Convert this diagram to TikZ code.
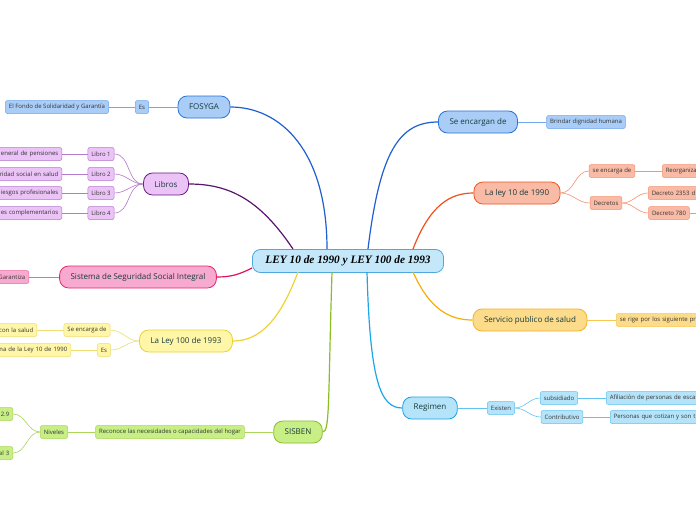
\documentclass[tikz,border=0pt]{standalone}
\usepackage{fontspec}
\setmainfont{Open Sans}
\newfontfamily\rootserif{Liberation Serif}
\usetikzlibrary{positioning}

\definecolor{ink}{HTML}{173A3A}
\definecolor{leafink}{HTML}{333333}
\definecolor{rootfill}{HTML}{C4E8FA}
\definecolor{rootline}{HTML}{4CA8DF}
\definecolor{bluefill}{HTML}{A9CDF7}
\definecolor{blueline}{HTML}{2A72D8}
\definecolor{bluelink}{HTML}{1F5FD0}
\definecolor{bluesoft}{HTML}{6FA6EE}
\definecolor{purpfill}{HTML}{EBC3F7}
\definecolor{purpline}{HTML}{6B1A80}
\definecolor{purplink}{HTML}{5A156E}
\definecolor{purpsoft}{HTML}{B47ACB}
\definecolor{pinkfill}{HTML}{F8A9CF}
\definecolor{pinkline}{HTML}{E5276F}
\definecolor{pinklink}{HTML}{E0115E}
\definecolor{pinksoft}{HTML}{EB6A9E}
\definecolor{yelfill}{HTML}{FFF6A8}
\definecolor{yelline}{HTML}{E8D232}
\definecolor{yellink}{HTML}{F0D332}
\definecolor{yelsoft}{HTML}{EEDD70}
\definecolor{grnfill}{HTML}{C8EE86}
\definecolor{grnline}{HTML}{8BBD2A}
\definecolor{grnlink}{HTML}{8BBE22}
\definecolor{grnsoft}{HTML}{AAD65A}
\definecolor{orgfill}{HTML}{F9BBA6}
\definecolor{orgline}{HTML}{EF5523}
\definecolor{orglink}{HTML}{F0501E}
\definecolor{orgsoft}{HTML}{F39474}
\definecolor{goldfill}{HTML}{FCDB8A}
\definecolor{goldline}{HTML}{F3B124}
\definecolor{goldlink}{HTML}{F8B000}
\definecolor{goldsoft}{HTML}{F6C650}
\definecolor{cyanfill}{HTML}{B5E4FA}
\definecolor{cyanline}{HTML}{1AA3E2}
\definecolor{cyanlink}{HTML}{1CA5EA}
\definecolor{cyansoft}{HTML}{62C2F0}

\tikzset{
  root/.style={draw=rootline, fill=rootfill, line width=0.8pt, rounded corners=8pt,
    minimum height=23pt, inner xsep=13pt, text=black,
    font=\rootserif\bfseries\itshape\fontsize{11.3}{13}\selectfont},
  topic/.style 2 args={draw=#2, fill=#1, line width=0.8pt, rounded corners=9pt,
    minimum height=22pt, inner xsep=11pt, text=ink, font=\fontsize{8}{9}\selectfont},
  leaf/.style 2 args={draw=#2, fill=#1, line width=0.5pt, rounded corners=2pt,
    minimum height=13pt, inner xsep=3.5pt, inner ysep=1pt, text=leafink,
    font=\fontsize{6}{7}\selectfont},
  cutl/.style={anchor=east, text width=#1, align=right},
  cutr/.style={anchor=west, text width=#1, align=left},
  branch/.style={line width=1.2pt, draw=#1},
  twig/.style={line width=0.6pt, draw=#1},
}

\begin{document}
\begin{tikzpicture}[x=1pt, y=-1pt]
\useasboundingbox (0,0) rectangle (696,520);
\fill[white] (0,0) rectangle (696,520);
\clip (0,0) rectangle (696,520);

\node[root] (root) at (348,261) {LEY 10 de 1990 y LEY 100 de 1993};

\node[topic={bluefill}{blueline}] (fosyga) at (204,107) {FOSYGA};
\node[leaf={bluefill}{bluesoft}] (es1) at (142,107) {Es};
\node[leaf={bluefill}{bluesoft}] (fondo) at (57,107) {El Fondo de Solidaridad y Garantía};

\node[topic={purpfill}{purpline}] (libros) at (166,184) {Libros};
\node[leaf={purpfill}{purpsoft}] (lib1) at (101,154) {Libro 1};
\node[leaf={purpfill}{purpsoft}] (lib2) at (101,174) {Libro 2};
\node[leaf={purpfill}{purpsoft}] (lib3) at (101,193) {Libro 3};
\node[leaf={purpfill}{purpsoft}] (lib4) at (101,213) {Libro 4};
\node[leaf={purpfill}{purpsoft}, cutl=90pt] (pens) at (62,154) {eneral de pensiones};
\node[leaf={purpfill}{purpsoft}, cutl=90pt] (salud) at (62,174) {ridad social en salud};
\node[leaf={purpfill}{purpsoft}, cutl=90pt] (riesgo) at (62,193) {iesgos profesionales};
\node[leaf={purpfill}{purpsoft}, cutl=90pt] (compl) at (62,213) {es complementarios};

\node[topic={pinkfill}{pinkline}] (sssi) at (138,277) {Sistema de Seguridad Social Integral};
\node[leaf={pinkfill}{pinksoft}, cutl=40pt] (garan) at (29,277) {Garantiza};

\node[topic={yelfill}{yelline}] (ley100) at (186,341) {La Ley 100 de 1993};
\node[leaf={yelfill}{yelsoft}] (senc1) at (87,330) {Se encarga de};
\node[leaf={yelfill}{yelsoft}] (es2) at (104,350) {Es};
\node[leaf={yelfill}{yelsoft}, cutl=60pt] (consal) at (37,330) {con la salud};
\node[leaf={yelfill}{yelsoft}, cutl=80pt] (reforma) at (71,350) {ma de la Ley 10 de 1990};

\node[topic={grnfill}{grnline}] (sisben) at (298,432) {SISBEN};
\node[leaf={grnfill}{grnsoft}] (recon) at (170,432) {Reconoce las necesidades o capacidades del hogar};
\node[leaf={grnfill}{grnsoft}] (nivel) at (54,432) {Niveles};
\node[leaf={grnfill}{grnsoft}, cutl=40pt] (niv1) at (13,414) {2.9};
\node[leaf={grnfill}{grnsoft}, cutl=40pt] (niv2) at (13,453) {al 3};

\node[topic={bluefill}{blueline}] (sencn) at (478,122) {Se encargan de};
\node[leaf={bluefill}{bluesoft}] (brind) at (586,122) {Brindar dignidad humana};

\node[topic={orgfill}{orgline}] (ley10) at (517,193) {La ley 10 de 1990};
\node[leaf={orgfill}{orgsoft}] (senc2) at (612,171) {se encarga de};
\node[leaf={orgfill}{orgsoft}] (decr) at (606,203) {Decretos};
\node[leaf={orgfill}{orgsoft}, cutr=80pt] (reorg) at (662,171) {Reorganiza};
\node[leaf={orgfill}{orgsoft}, cutr=80pt] (d2353) at (648,193) {Decreto 2353 d};
\node[leaf={orgfill}{orgsoft}] (d780) at (669,213) {Decreto 780};
\coordinate (d780c) at (720,213);

\node[topic={goldfill}{goldline}] (servi) at (530,320) {Servicio publico de salud};
\node[leaf={goldfill}{goldsoft}, cutr=120pt] (serige) at (616,320) {se rige por los siguiente pri};

\node[topic={cyanfill}{cyanline}] (regim) at (430,408) {Regimen};
\node[leaf={cyanfill}{cyansoft}] (exist) at (501,408) {Existen};
\node[leaf={cyanfill}{cyansoft}] (subs) at (559,398) {subsidiado};
\node[leaf={cyanfill}{cyansoft}] (contr) at (562,417) {Contributivo};
\node[leaf={cyanfill}{cyansoft}, cutr=130pt] (afil) at (606,398) {Afiliación de personas de escas};
\node[leaf={cyanfill}{cyansoft}, cutr=130pt] (perso) at (610,417) {Personas que cotizan y son tra};

\draw[branch=bluelink] (327,249) .. controls (327,150) and (280,107) .. (fosyga.east);
\draw[branch=purplink] (293,249) .. controls (260,200) and (230,184) .. (libros.east);
\draw[branch=pinklink] (252,268) .. controls (240,274) and (232,277) .. (sssi.east);
\draw[branch=yellink] (298,272) .. controls (280,320) and (260,341) .. (ley100.east);
\draw[branch=grnlink] (332,272) .. controls (328,400) and (330,432) .. (sisben.east);
\draw[branch=bluelink] (368,249) .. controls (380,150) and (400,122) .. (sencn.west);
\draw[branch=orglink] (413,249) .. controls (430,205) and (450,193) .. (ley10.west);
\draw[branch=goldlink] (413,272) .. controls (430,310) and (450,320) .. (servi.west);
\draw[branch=cyanlink] (367,272) .. controls (370,380) and (380,408) .. (regim.west);

\draw[twig=bluesoft] (fosyga.west) -- (es1.east);
\draw[twig=bluesoft] (es1.west) -- (fondo.east);
\foreach \n/\m in {lib1/pens, lib2/salud, lib3/riesgo, lib4/compl} {
  \draw[twig=purpsoft] (libros.west) to[out=180, in=0] (\n.east);
  \draw[twig=purpsoft] (\n.west) -- (\m.east);
}
\draw[twig=pinksoft] (sssi.west) -- (garan.east);
\draw[twig=yelsoft] (ley100.west) to[out=180, in=0] (senc1.east);
\draw[twig=yelsoft] (ley100.west) to[out=180, in=0] (es2.east);
\draw[twig=yelsoft] (senc1.west) -- (consal.east);
\draw[twig=yelsoft] (es2.west) -- (reforma.east);
\draw[twig=grnsoft] (sisben.west) -- (recon.east);
\draw[twig=grnsoft] (recon.west) -- (nivel.east);
\draw[twig=grnsoft] (nivel.west) to[out=180, in=0] (niv1.east);
\draw[twig=grnsoft] (nivel.west) to[out=180, in=0] (niv2.east);
\draw[twig=bluesoft] (sencn.east) -- (brind.west);
\draw[twig=orgsoft] (ley10.east) to[out=0, in=180] (senc2.west);
\draw[twig=orgsoft] (ley10.east) to[out=0, in=180] (decr.west);
\draw[twig=orgsoft] (senc2.east) -- (reorg.west);
\draw[twig=orgsoft] (decr.east) to[out=0, in=180] (d2353.west);
\draw[twig=orgsoft] (decr.east) to[out=0, in=180] (d780.west);
\draw[twig=orgsoft] (d780.east) -- (d780c);
\draw[twig=goldsoft] (servi.east) -- (serige.west);
\draw[twig=cyansoft] (regim.east) -- (exist.west);
\draw[twig=cyansoft] (exist.east) to[out=0, in=180] (subs.west);
\draw[twig=cyansoft] (exist.east) to[out=0, in=180] (contr.west);
\draw[twig=cyansoft] (subs.east) -- (afil.west);
\draw[twig=cyansoft] (contr.east) -- (perso.west);
\end{tikzpicture}
\end{document}
